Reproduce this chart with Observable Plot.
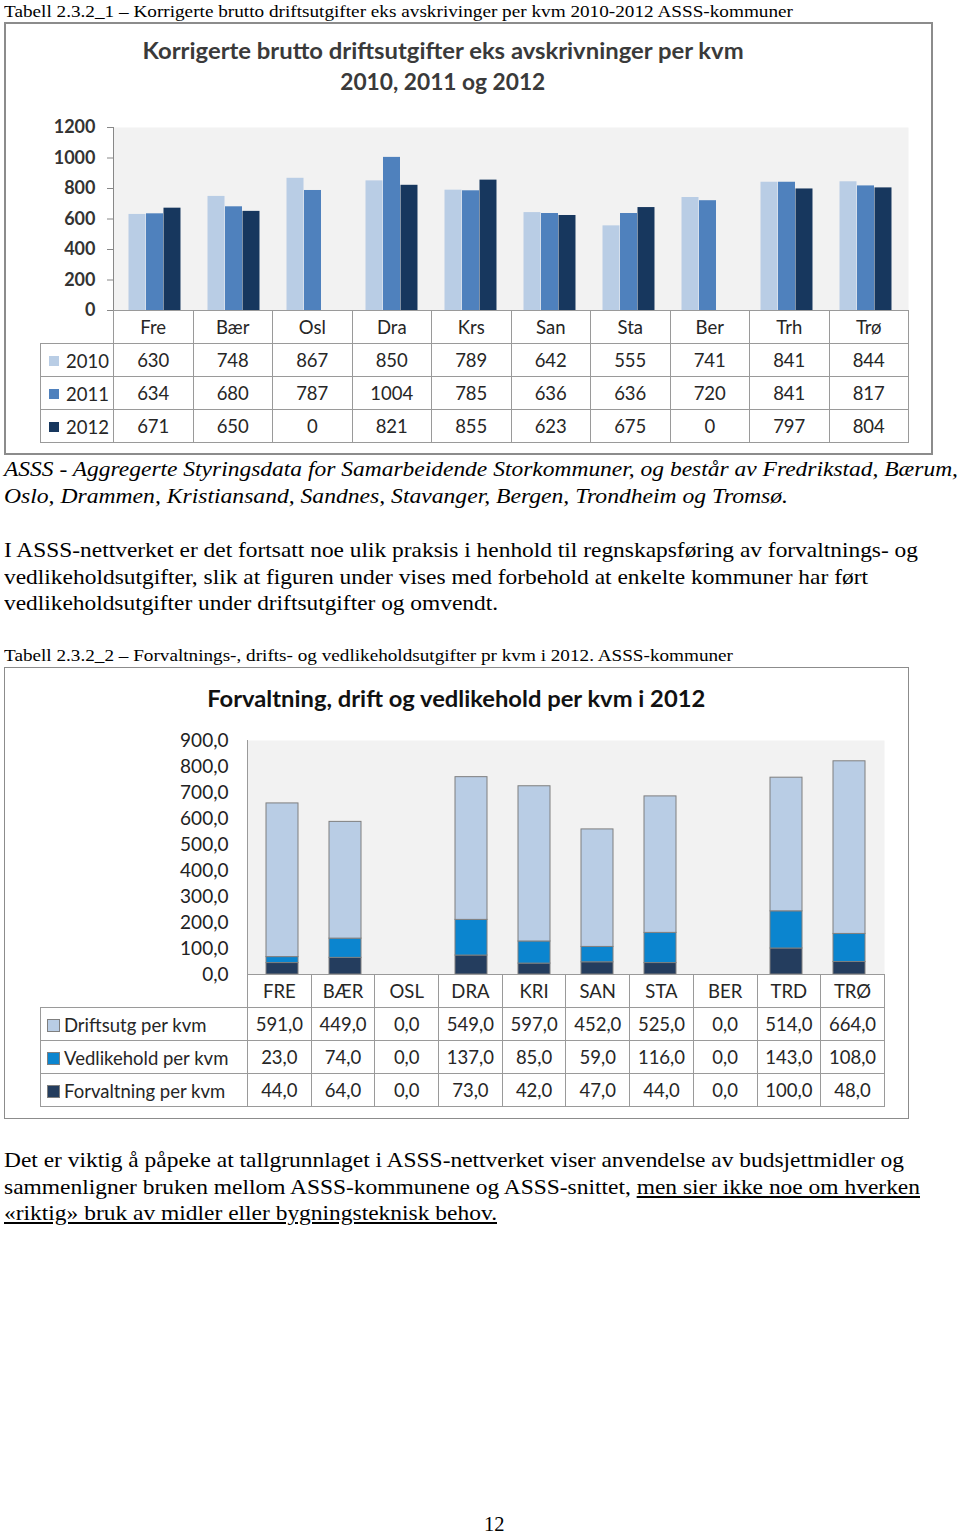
<!DOCTYPE html>
<html>
<head>
<meta charset="utf-8">
<script src="https://cdn.jsdelivr.net/npm/d3@7"></script>
<script src="https://cdn.jsdelivr.net/npm/@observablehq/plot@0.6"></script>
<style>
  html, body { margin: 0; padding: 0; background: #fff; }
  body { position: relative; width: 960px; height: 1536px; overflow: hidden; font-family: "Liberation Serif", serif; color: #000; }
  .abs { position: absolute; }
  .line { position: absolute; font-family: "Liberation Serif", serif; white-space: nowrap; transform-origin: 0 50%; }
  .box { position: absolute; box-sizing: border-box; border: 2px solid #8c8c8c; background: #fff; }
  .ctitle { position: absolute; font-family: Lato, "Open Sans", sans-serif; font-weight: bold; color: #3a3a3a; white-space: nowrap; transform-origin: 50% 50%; }
  table.dt { position: absolute; border-collapse: collapse; table-layout: fixed; font-family: Lato, "Open Sans", sans-serif; color: #262626; }
  table.dt td { border: 1px solid #9a9a9a; padding: 0; text-align: center; white-space: nowrap; overflow: hidden; }
  table.dt td.corner { border-top: none; border-left: none; }
  table.dt td.leg { text-align: left; }
  .sw { display: inline-block; vertical-align: middle; box-sizing: border-box; }
</style>
</head>
<body>
<script>
// ---------- Chart 1 data ----------
const cats1 = ["Fre", "Bær", "Osl", "Dra", "Krs", "San", "Sta", "Ber", "Trh", "Trø"];
const years = ["2010", "2011", "2012"];
const v2010 = [630, 748, 867, 850, 789, 642, 555, 741, 841, 844];
const v2011 = [634, 680, 787, 1004, 785, 636, 636, 720, 841, 817];
const v2012 = [671, 650, 0, 821, 855, 623, 675, 0, 797, 804];
const ticks1 = [0, 200, 400, 600, 800, 1000, 1200];
const colors1 = ["#b9cde5", "#4f81bd", "#17375e"];

// ---------- Chart 2 data ----------
const cats2 = ["FRE", "BÆR", "OSL", "DRA", "KRI", "SAN", "STA", "BER", "TRD", "TRØ"];
const series2 = ["Driftsutg per kvm", "Vedlikehold per kvm", "Forvaltning per kvm"];
const drift = [591, 449, 0, 549, 597, 452, 525, 0, 514, 664];
const vedlikehold = [23, 74, 0, 137, 85, 59, 116, 0, 143, 108];
const forvaltning = [44, 64, 0, 73, 42, 47, 44, 0, 100, 48];
const ticks2 = [0, 100, 200, 300, 400, 500, 600, 700, 800, 900];
const colors2 = ["#b9cde5", "#0b85cf", "#243d5e"];

const body = document.body;
function add(html) { const t = document.createElement("template"); t.innerHTML = html.trim(); const el = t.content.firstChild; body.appendChild(el); return el; }

// a text line fitted to the width it has on the page
function line(html, {left = 4, cy, size, width, italic = false}) {
  const el = add(`<div class="line" style="left:${left}px;top:${cy - size * 0.6}px;font-size:${size}px;line-height:${size * 1.2}px;${italic ? "font-style:italic;" : ""}">${html}</div>`);
  const w = el.getBoundingClientRect().width;
  if (width && w > 0) el.style.transform = `scaleX(${width / w})`;
  return el;
}
function title(text, {cx, cy, size, width, color = "#3a3a3a"}) {
  const el = add(`<div class="ctitle" style="top:${cy - size * 0.62}px;font-size:${size}px;line-height:${size * 1.24}px;color:${color}">${text}</div>`);
  const w = el.getBoundingClientRect().width;
  el.style.left = (cx - w / 2) + "px";
  if (width && w > 0) el.style.transform = `scaleX(${width / w})`;
  return el;
}

// ---------- document text ----------
line("Tabell 2.3.2_1 – Korrigerte brutto driftsutgifter eks avskrivinger per kvm 2010-2012 ASSS-kommuner", {cy: 11, size: 17.5, width: 789});
add(`<div class="box" style="left:4px;top:22px;width:929px;height:433px;"></div>`);
title("Korrigerte brutto driftsutgifter eks avskrivninger per kvm", {cx: 443, cy: 50, size: 23, width: 601});
title("2010, 2011 og 2012", {cx: 443, cy: 81, size: 23, width: 205});

line("ASSS - Aggregerte Styringsdata for Samarbeidende Storkommuner, og består av Fredrikstad, Bærum,", {cy: 470, size: 21.5, width: 954, italic: true});
line("Oslo, Drammen, Kristiansand, Sandnes, Stavanger, Bergen, Trondheim og Tromsø.", {cy: 497, size: 21.5, width: 784, italic: true});
line("I ASSS-nettverket er det fortsatt noe ulik praksis i henhold til regnskapsføring av forvaltnings- og", {cy: 551, size: 21, width: 914});
line("vedlikeholdsutgifter, slik at figuren under vises med forbehold at enkelte kommuner har ført", {cy: 578, size: 21, width: 864});
line("vedlikeholdsutgifter under driftsutgifter og omvendt.", {cy: 604, size: 21, width: 494});
line("Tabell 2.3.2_2 – Forvaltnings-, drifts- og vedlikeholdsutgifter pr kvm i 2012. ASSS-kommuner", {cy: 655, size: 17.5, width: 729});
add(`<div class="box" style="left:4px;top:667px;width:905px;height:452px;border-width:1.5px;"></div>`);
title("Forvaltning, drift og vedlikehold per kvm i 2012", {cx: 456, cy: 698, size: 23, width: 498, color: "#111"});
line("Det er viktig å påpeke at tallgrunnlaget i ASSS-nettverket viser anvendelse av budsjettmidler og", {cy: 1161, size: 21, width: 900});
line("sammenligner bruken mellom ASSS-kommunene og ASSS-snittet, <u>men sier ikke noe om hverken</u>", {cy: 1188, size: 21, width: 916});
line("<u>«riktig» bruk av midler eller bygningsteknisk behov.</u>", {cy: 1214, size: 21, width: 493});
line("12", {left: 484, cy: 1524, size: 20.5});

// ---------- Chart 1 ----------
const data1 = [];
cats1.forEach((c, i) => {
  data1.push({cat: c, year: "2010", value: v2010[i]});
  data1.push({cat: c, year: "2011", value: v2011[i]});
  data1.push({cat: c, year: "2012", value: v2012[i]});
});
const step1 = (960 - 113 - 52) / cats1.length;
const bw1 = step1 * 0.22;
const chart1 = Plot.plot({
  width: 960, height: 230,
  marginLeft: 113, marginRight: 52, marginTop: 27, marginBottom: 20,
  style: {fontFamily: "Lato, 'Open Sans', sans-serif", fontSize: "18px", color: "#333", background: "transparent", overflow: "visible"},
  x: {domain: cats1, paddingInner: 0.78, paddingOuter: 0.39, axis: null},
  y: {domain: [0, 1200], axis: null},
  marks: [
    Plot.frame({fill: "#f2f2f2", stroke: null}),
    ...years.map((yr, i) => Plot.barY(data1.filter(d => d.year === yr), {x: "cat", y: "value", fill: colors1[i], dx: (i - 1) * bw1})),
    Plot.axisY({ticks: ticks1, tickSize: 6, tickPadding: 12, stroke: "#888", fontWeight: "bold", tickFormat: d => String(d), label: null}),
    Plot.frame({anchor: "left", stroke: "#888"})
  ]
});
chart1.style.position = "absolute"; chart1.style.left = "0px"; chart1.style.top = "100px";
body.appendChild(chart1);

// ---------- Chart 2 ----------
const data2 = [];
cats2.forEach((c, i) => {
  data2.push({cat: c, series: series2[2], value: forvaltning[i]});
  data2.push({cat: c, series: series2[1], value: vedlikehold[i]});
  data2.push({cat: c, series: series2[0], value: drift[i]});
});
const fmt2 = d => d.toFixed(1).replace(".", ",");
const chart2 = Plot.plot({
  width: 960, height: 260,
  marginLeft: 247, marginRight: 76, marginTop: 20, marginBottom: 6,
  style: {fontFamily: "Lato, 'Open Sans', sans-serif", fontSize: "19px", color: "#222", background: "transparent", overflow: "visible"},
  x: {domain: cats2, paddingInner: 0.5, paddingOuter: 0.25, axis: null},
  y: {domain: [0, 900], axis: null},
  color: {domain: series2, range: colors2},
  marks: [
    Plot.frame({fill: "#f2f2f2", stroke: null}),
    Plot.barY(data2.filter(d => d.value > 0), {x: "cat", y: "value", fill: "series", stroke: "#7f7f7f", strokeWidth: 1, order: null}),
    Plot.axisY({ticks: ticks2, tickSize: 0, tickPadding: 19, tickFormat: fmt2, label: null}),
    Plot.frame({anchor: "left", stroke: "#9a9a9a"})
  ]
});
chart2.style.position = "absolute"; chart2.style.left = "0px"; chart2.style.top = "720px";
body.appendChild(chart2);

// ---------- data tables ----------
function buildTable({left, top, legendW, colW, cats, rows, fontSize, rowH, swSize}) {
  const n = cats.length;
  let html = `<table class="dt" style="left:${left}px;top:${top}px;width:${legendW + colW * n}px;font-size:${fontSize}px;">`;
  html += `<colgroup><col style="width:${legendW}px">` + cats.map(() => `<col style="width:${colW}px">`).join("") + `</colgroup>`;
  html += `<tr style="height:${rowH}px"><td class="corner"></td>` + cats.map(c => `<td>${c}</td>`).join("") + `</tr>`;
  rows.forEach(r => {
    html += `<tr style="height:${rowH}px"><td class="leg"><span class="sw" style="width:${swSize}px;height:${swSize}px;background:${r.color};margin:0 ${r.gap}px 0 ${r.indent}px;${r.border ? "border:1px solid #7f7f7f;" : ""}"></span><span style="vertical-align:middle">${r.label}</span></td>` +
      r.values.map(v => `<td>${r.fmt(v)}</td>`).join("") + `</tr>`;
  });
  html += `</table>`;
  add(html);
}
buildTable({
  left: 40, top: 310, legendW: 73, colW: step1, cats: cats1, fontSize: 18.5, rowH: 33, swSize: 10,
  rows: [
    {label: years[0], color: colors1[0], values: v2010, fmt: String, indent: 8, gap: 7},
    {label: years[1], color: colors1[1], values: v2011, fmt: String, indent: 8, gap: 7},
    {label: years[2], color: colors1[2], values: v2012, fmt: String, indent: 8, gap: 7}
  ]
});
const step2 = (960 - 247 - 76) / cats2.length;
buildTable({
  left: 40, top: 974, legendW: 207, colW: step2, cats: cats2, fontSize: 18.5, rowH: 33, swSize: 13,
  rows: [
    {label: series2[0], color: colors2[0], values: drift, fmt: fmt2, indent: 6, gap: 4, border: true},
    {label: series2[1], color: colors2[1], values: vedlikehold, fmt: fmt2, indent: 6, gap: 4, border: true},
    {label: series2[2], color: colors2[2], values: forvaltning, fmt: fmt2, indent: 6, gap: 4, border: true}
  ]
});
</script>
</body>
</html>
